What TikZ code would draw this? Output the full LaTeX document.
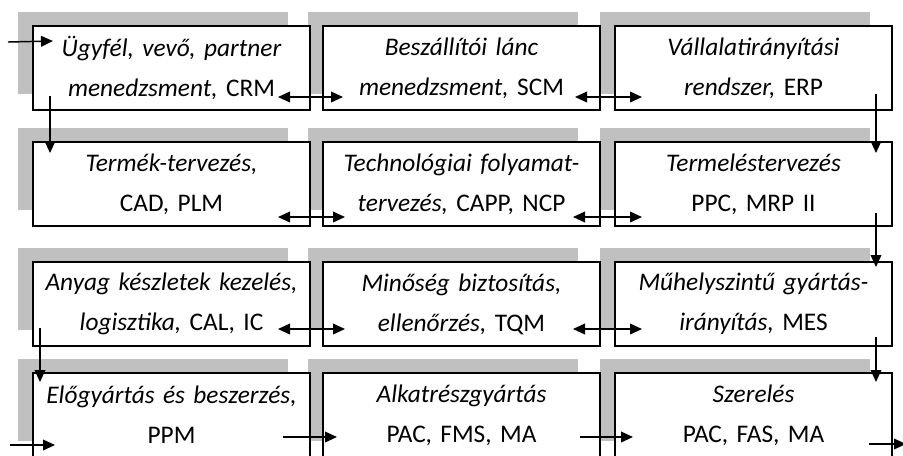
\documentclass[tikz,border=0pt]{standalone}
\usepackage{fontspec}
\setmainfont{Carlito}
\usetikzlibrary{arrows.meta,positioning,calc,backgrounds}
\definecolor{shadegray}{RGB}{192,192,192}
\newcommand{\felfel}{\par\vspace*{6pt}}

\tikzset{
  modul/.style={draw=black,line width=1pt,fill=white,minimum width=207.75pt,
    minimum height=63pt,text width=205pt,align=center,inner sep=0pt,outer sep=0pt,
    font=\fontsize{19}{30}\selectfont},
  nyil/.style={line width=1.1pt,-{Triangle[length=9pt,width=8pt]}},
  kettos/.style={line width=1.1pt,{Triangle[length=9pt,width=8pt]}-{Triangle[length=9pt,width=8pt]}},
}

\begin{document}
\begin{tikzpicture}[x=0.75pt,y=-0.75pt]
\useasboundingbox (0,0) rectangle (903,455);
\clip (0,0) rectangle (903,455);

% first row
\node[modul] (crm) at (171.5,68) {\textit{Ügyfél, vevő, partner}\\ \textit{menedzsment,} CRM\felfel};
\node[modul,right=9.75pt of crm] (scm) {\textit{Beszállítói lánc}\\ \textit{menedzsment,} SCM\felfel};
\node[modul,right=11.25pt of scm] (erp) {\textit{Vállalatirányítási}\\ \textit{rendszer,} ERP\felfel};

% second row
\node[modul,below=24pt of crm] (cad) {\textit{Termék-tervezés,}\\ CAD, PLM\felfel};
\node[modul,right=9.75pt of cad] (capp) {\textit{Technológiai folyamat-}\\ \textit{tervezés,} CAPP, NCP\felfel};
\node[modul,right=11.25pt of capp] (ppc) {\textit{Termeléstervezés}\\ PPC, MRP II\felfel};

% third row
\node[modul,below=27pt of cad] (cal) {\textit{Anyag készletek kezelés,}\\ \textit{logisztika,} CAL, IC\felfel};
\node[modul,right=9.75pt of cal] (tqm) {\textit{Minőség biztosítás,}\\ \textit{ellenőrzés,} TQM\felfel};
\node[modul,right=11.25pt of tqm] (mes) {\textit{Műhelyszintű gyártás-}\\ \textit{irányítás,} MES\felfel};

% fourth row
\node[modul,below=20.25pt of cal] (ppm) {\textit{Előgyártás és beszerzés,}\\ PPM\felfel};
\node[modul,right=9.75pt of ppm] (pac) {\textit{Alkatrészgyártás}\\ PAC, FMS, MA\felfel};
\node[modul,right=11.25pt of pac] (fas) {\textit{Szerelés}\\ PAC, FAS, MA\felfel};

% shadows
\begin{pgfonlayer}{background}
\foreach \n in {crm,scm,erp,cad,capp,ppc,cal,tqm,mes,ppm,pac,fas}
  \fill[shadegray] ($(\n.north west)+(-15,-14)$) rectangle ($(\n.south east)+(-22,-16)$);
\end{pgfonlayer}

\coordinate (be1) at (8,42);
\coordinate (be2) at (10,445);
\coordinate (ki) at (906,444);

\draw[nyil] (be1) -- ($(crm.north west)+(20,15)$);
\draw[kettos] ($(crm.south east)+(-32,-13)$) -- ($(scm.south west)+(20,-13)$);
\draw[kettos] ($(scm.south east)+(-25,-13)$) -- ($(erp.south west)+(27,-13)$);
\draw[nyil] ($(crm.south west)+(17,-14)$) -- ($(cad.north west)+(17,11)$);
\draw[nyil] ($(erp.south east)+(-16,-16)$) -- ($(ppc.north east)+(-16,11)$);

\draw[kettos] ($(cad.south east)+(-32,-9)$) -- ($(capp.south west)+(22,-9)$);
\draw[kettos] ($(capp.south east)+(-27,-9)$) -- ($(ppc.south west)+(27,-9)$);
\draw[nyil] ($(ppc.south east)+(-16,-13)$) -- ($(mes.north east)+(-16,5)$);

\draw[kettos] ($(cal.south east)+(-32,-17)$) -- ($(tqm.south west)+(22,-17)$);
\draw[kettos] ($(tqm.south east)+(-27,-17)$) -- ($(mes.south west)+(27,-17)$);
\draw[nyil] ($(cal.south west)+(7,-18)$) -- ($(ppm.north west)+(7,9)$);
\draw[nyil] ($(mes.south east)+(-16,-9)$) -- ($(fas.north east)+(-16,9)$);

\draw[nyil] (be2) -- ($(ppm.west)+(22,30)$);
\draw[nyil] ($(ppm.east)+(-27,22)$) -- ($(pac.west)+(14,22)$);
\draw[nyil] ($(pac.east)+(-20,22)$) -- ($(fas.west)+(18,22)$);
\draw[nyil] ($(fas.east)+(-23,29)$) -- (ki);
\end{tikzpicture}
\end{document}
